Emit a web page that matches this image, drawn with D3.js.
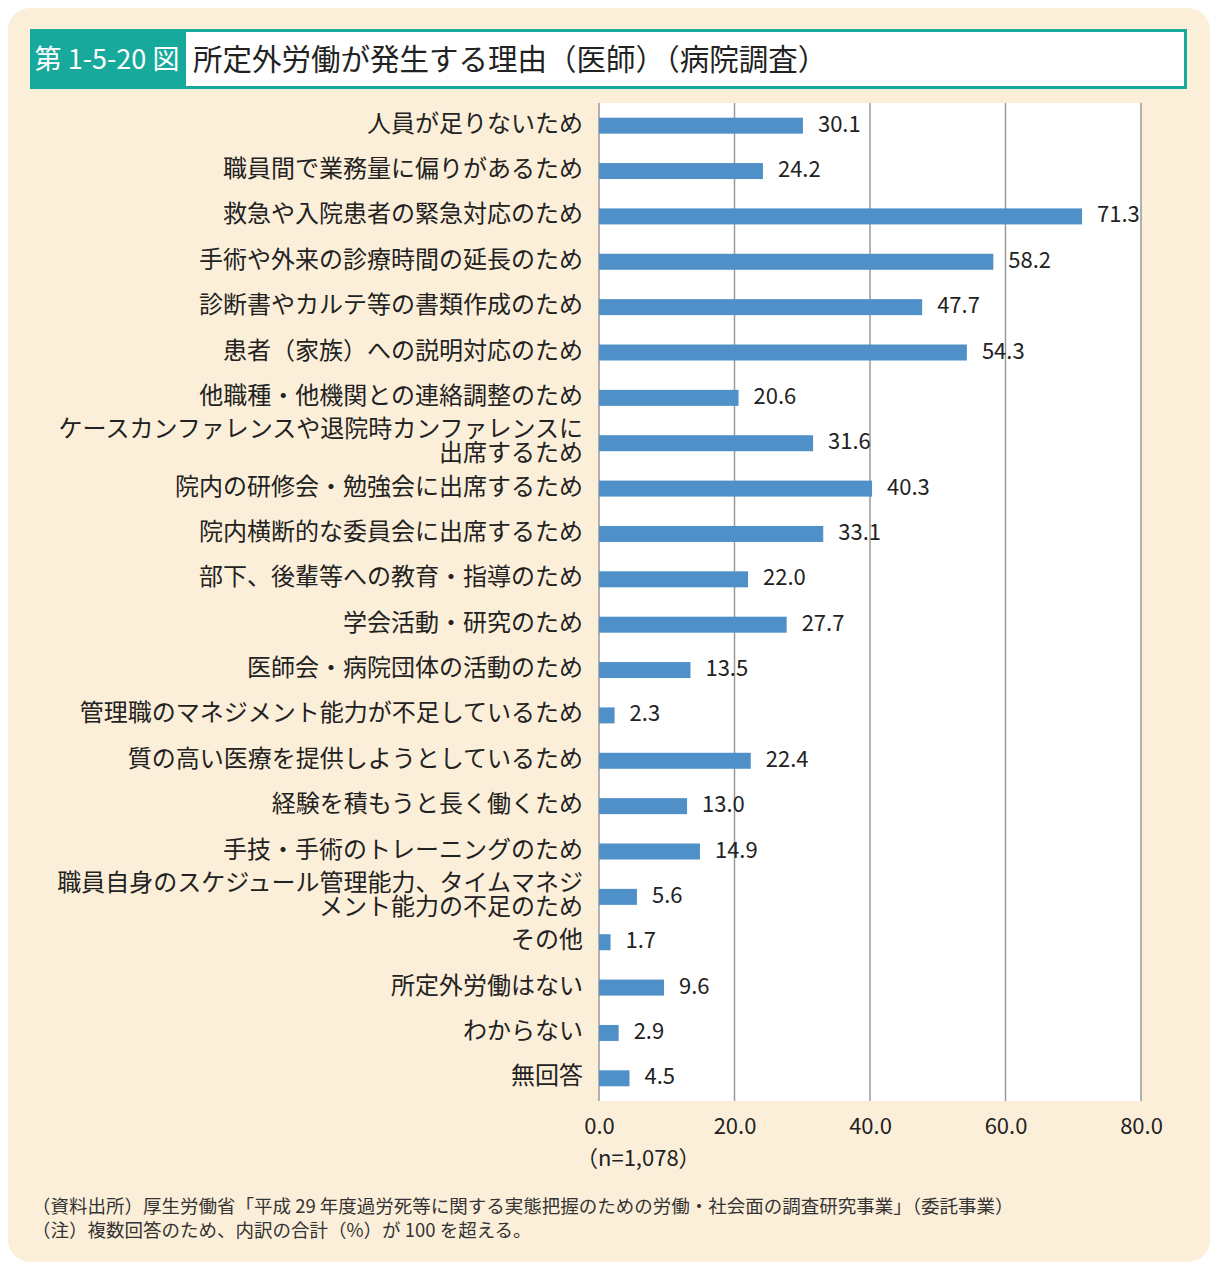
<!DOCTYPE html>
<html><head><meta charset="utf-8">
<script src="https://cdn.jsdelivr.net/npm/d3@7"></script>
<style>
body{margin:0;background:#fff;}
svg{display:block;}
</style></head>
<body>
<script>
const categories = [
  "人員が足りないため",
  "職員間で業務量に偏りがあるため",
  "救急や入院患者の緊急対応のため",
  "手術や外来の診療時間の延長のため",
  "診断書やカルテ等の書類作成のため",
  "患者（家族）への説明対応のため",
  "他職種・他機関との連絡調整のため",
  "ケースカンファレンスや退院時カンファレンスに\n出席するため",
  "院内の研修会・勉強会に出席するため",
  "院内横断的な委員会に出席するため",
  "部下、後輩等への教育・指導のため",
  "学会活動・研究のため",
  "医師会・病院団体の活動のため",
  "管理職のマネジメント能力が不足しているため",
  "質の高い医療を提供しようとしているため",
  "経験を積もうと長く働くため",
  "手技・手術のトレーニングのため",
  "職員自身のスケジュール管理能力、タイムマネジ\nメント能力の不足のため",
  "その他",
  "所定外労働はない",
  "わからない",
  "無回答"
];
const values = [30.1, 24.2, 71.3, 58.2, 47.7, 54.3, 20.6, 31.6, 40.3, 33.1, 22.0, 27.7, 13.5, 2.3, 22.4, 13.0, 14.9, 5.6, 1.7, 9.6, 2.9, 4.5];
const tickValues = [0, 20, 40, 60, 80];
const titleLabel = "第 1-5-20 図";
const titleText = "所定外労働が発生する理由（医師）（病院調査）";
const sampleNote = "（n=1,078）";
const footnotes = [
  "（資料出所）厚生労働省「平成 29 年度過労死等に関する実態把握のための労働・社会面の調査研究事業」（委託事業）",
  "（注）複数回答のため、内訳の合計（%）が 100 を超える。"
];

const W = 1218, H = 1276;
const font = "'Noto Sans CJK JP','Noto Sans',sans-serif";
const svg = d3.select("body").append("svg").attr("width", W).attr("height", H);

// panel
svg.append("rect").attr("x", 8).attr("y", 8).attr("width", 1202).attr("height", 1254)
  .attr("rx", 22).attr("fill", "#fcefd9");

// title bar
const teal = "#17a99b";
svg.append("rect").attr("x", 31.5).attr("y", 30.5).attr("width", 1154).attr("height", 57)
  .attr("fill", "#fff").attr("stroke", teal).attr("stroke-width", 3);
svg.append("rect").attr("x", 30).attr("y", 29).attr("width", 156).attr("height", 60).attr("fill", teal);
svg.append("text").attr("x", 107).attr("y", 69).attr("text-anchor", "middle")
  .attr("font-family", font).attr("font-size", 27).attr("fill", "#fff").text(titleLabel);
svg.append("text").attr("x", 193).attr("y", 70)
  .attr("font-family", font).attr("font-size", 29.5).attr("fill", "#222").text(titleText);

// scales
const x = d3.scaleLinear().domain([0, 80]).range([599, 1141]);
const y = d3.scaleBand().domain(categories).range([103, 1101]).padding(0);

// plot area
svg.append("rect").attr("x", x(0)).attr("y", 103).attr("width", x(80) - x(0)).attr("height", 998).attr("fill", "#fff");

// gridlines
svg.append("g").selectAll("line").data(tickValues).join("line")
  .attr("x1", d => x(d)).attr("x2", d => x(d)).attr("y1", 103).attr("y2", 1101)
  .attr("stroke", "#9a9a9a").attr("stroke-width", 1.5);

// bars
const bh = 16;
svg.append("g").selectAll("rect").data(values).join("rect")
  .attr("x", x(0)).attr("y", (d, i) => y(categories[i]) + y.bandwidth() / 2 - bh / 2)
  .attr("width", d => x(d) - x(0)).attr("height", bh).attr("fill", "#4f90c8");

// value labels
svg.append("g").selectAll("text").data(values).join("text")
  .attr("x", d => x(d) + 15).attr("y", (d, i) => y(categories[i]) + y.bandwidth() / 2 + 6)
  .attr("font-family", font).attr("font-size", 22).attr("fill", "#222")
  .text(d => d.toFixed(1));

// category labels
const lab = svg.append("g");
categories.forEach(c => {
  const lines = c.split("\n");
  const cy = y(c) + y.bandwidth() / 2;
  const lh = 24;
  const start = lines.length > 1 ? cy - 6 : cy + 6;
  lines.forEach((l, k) => {
    lab.append("text").attr("text-anchor", "end").attr("font-family", font)
      .attr("font-size", 24).attr("fill", "#222")
      .attr("x", 583).attr("y", start + k * lh).text(l);
  });
});

// x axis
const ax = svg.append("g").attr("transform", "translate(0,1101)")
  .call(d3.axisBottom(x).tickValues(tickValues).tickSize(0).tickPadding(17).tickFormat(d => d.toFixed(1)));
ax.select(".domain").remove();
ax.selectAll("text").attr("font-family", font).attr("font-size", 22).attr("fill", "#222");

svg.append("text").attr("x", 576).attr("y", 1166).attr("font-family", font).attr("font-size", 22)
  .attr("fill", "#222").text(sampleNote);

// footnotes
svg.append("g").selectAll("text").data(footnotes).join("text")
  .attr("x", 32).attr("y", (d, i) => 1213 + i * 24)
  .attr("font-family", font).attr("font-size", 18.5).attr("fill", "#333").text(d => d);
</script>
</body></html>
